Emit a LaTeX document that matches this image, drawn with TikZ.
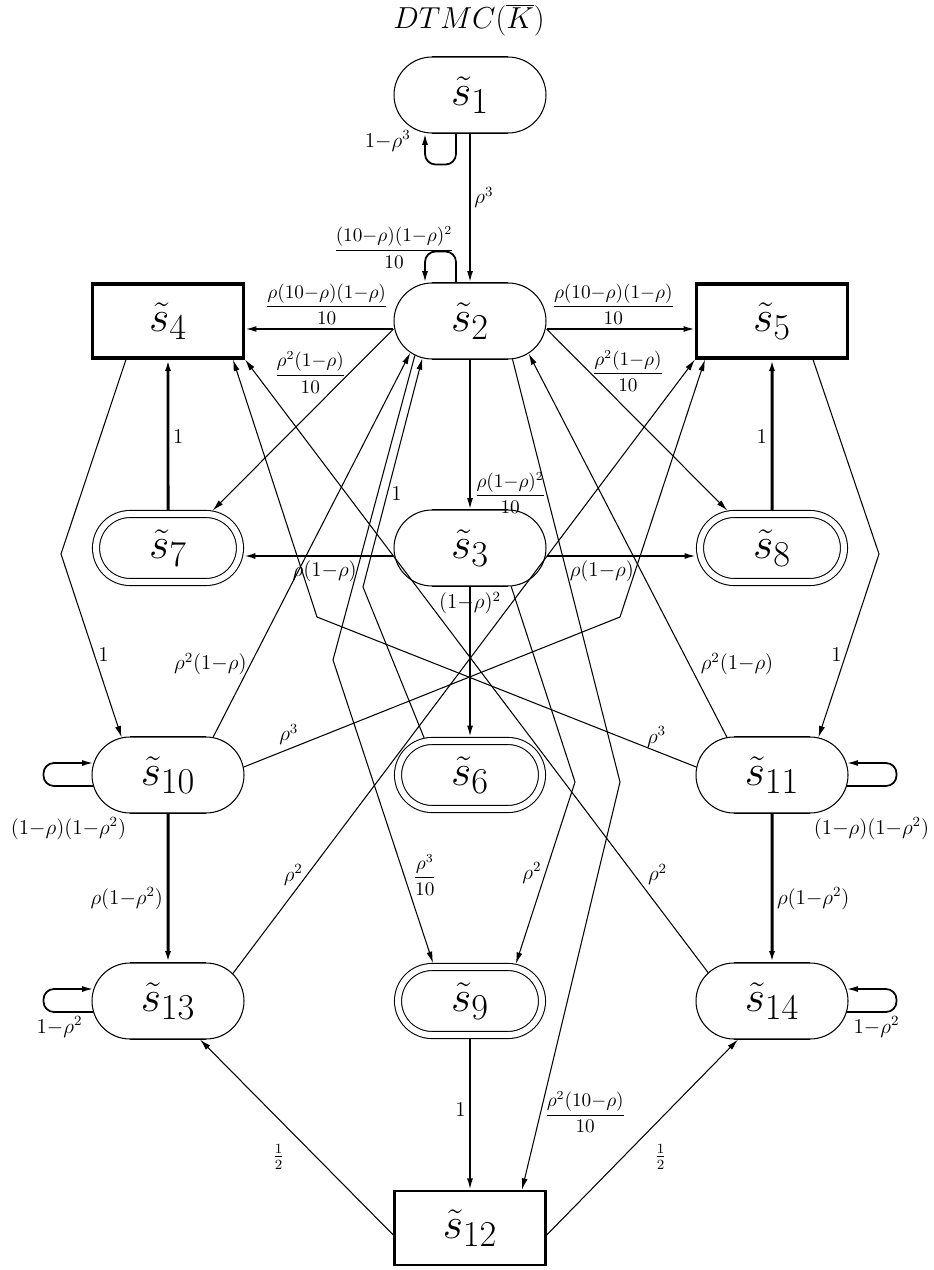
\documentclass[tikz,border=0pt]{standalone}
\usetikzlibrary{shapes.misc,arrows.meta,calc}
\DeclareMathSizes{24}{24}{20}{16}
\newcommand{\st}[1]{$\tilde{s}_{#1}$}
\tikzset{
  state/.style={rounded rectangle, draw, line width=.6pt, minimum width=3.04cm, minimum height=1.52cm, inner sep=0pt, font=\fontsize{24}{28}\selectfont},
  final/.style={state, double, double distance=.12cm, minimum width=2.88cm, minimum height=1.36cm, outer sep=.08cm},
  box/.style={draw, line width=1.8pt, minimum width=3.02cm, minimum height=1.48cm, inner sep=0pt, font=\fontsize{24}{28}\selectfont},
  flat/.style={line width=1.1pt},
  tr/.style={->, line width=.6pt},
  trm/.style={->, line width=1pt},
  trh/.style={->, line width=1.7pt},
  lbl/.style={font=\fontsize{11.5}{13}\selectfont, inner sep=2pt},
  flbl/.style={font=\fontsize{10.5}{12}\selectfont, inner sep=2pt}
}
\begin{document}
\begin{tikzpicture}[x=0.02cm, y=-0.02cm, >={Latex[length=6.5pt,width=3.4pt]}]
\useasboundingbox (0,0) rectangle (933,1270);
\node[font=\fontsize{16.5}{20}\selectfont] (title) at (469,20) {$DTMC(\overline{K})$};
\node[state] (s1) at (470,95) {\st{1}};
\node[state] (s2) at (470,321) {\st{2}};
\node[box] (s4) at (168,321) {\st{4}};
\node[box] (s5) at (772,321) {\st{5}};
\node[final] (s7) at (168,548) {\st{7}};
\node[state] (s3) at (470,548) {\st{3}};
\node[final] (s8) at (772,548) {\st{8}};
\node[state] (s10) at (168,775) {\st{10}};
\node[final] (s6) at (470,775) {\st{6}};
\node[state] (s11) at (772,775) {\st{11}};
\node[state] (s13) at (168,1001) {\st{13}};
\node[final] (s9) at (470,1001) {\st{9}};
\node[state] (s14) at (772,1001) {\st{14}};
\node[box, line width=1.4pt] (s12) at (470,1228) {\st{12}};

\foreach \n in {s1,s2,s3,s10,s11,s13,s14}
  \draw[flat] ([xshift=-.76cm]\n.north) -- ([xshift=.76cm]\n.north)
              ([xshift=-.76cm]\n.south) -- ([xshift=.76cm]\n.south);
\foreach \n in {s6,s7,s8,s9}
  \draw[flat] ([xshift=-.76cm,yshift=-.01cm]\n.north) -- ([xshift=.76cm,yshift=-.01cm]\n.north)
              ([xshift=-.76cm,yshift=-.15cm]\n.north) -- ([xshift=.76cm,yshift=-.15cm]\n.north)
              ([xshift=-.76cm,yshift=.01cm]\n.south) -- ([xshift=.76cm,yshift=.01cm]\n.south)
              ([xshift=-.76cm,yshift=.15cm]\n.south) -- ([xshift=.76cm,yshift=.15cm]\n.south);

\coordinate (k4) at (61,554);
\coordinate (k5) at (879,554);
\coordinate (k10) at (620,617);
\coordinate (k11) at (317,617);
\coordinate (k29) at (333,660);
\coordinate (k39) at (575,782);
\coordinate (k212) at (620,782);
\coordinate (k62) at (363,587);

\draw[trm, rounded corners=6pt] ($(s1.south)+(-14,0)$) -- ++(0,31) -- ++(-31,0) -- ++(0,-31) node[lbl, pos=.75, left, xshift=-.2cm] {$1{-}\rho^3$};
\draw[trm, rounded corners=6pt] ($(s2.north)+(-14,0)$) -- ++(0,-31) -- ++(-31,0) node[flbl, pos=1, xshift=-.62cm, yshift=.08cm] {$\displaystyle\frac{(10{-}\rho)(1{-}\rho)^2}{10}$} -- ++(0,31);
\draw[trm, rounded corners=6pt] ($(s10.west)+(2,11)$) -- ++(-50,0) node[lbl, pos=.5, below, yshift=-.54cm] {$(1{-}\rho)(1{-}\rho^2)$} -- ++(0,-23) -- ($(s10.west)+(2,-12)$);
\draw[trm, rounded corners=6pt] ($(s11.east)+(-2,11)$) -- ++(50,0) node[lbl, pos=.5, below, yshift=-.54cm] {$(1{-}\rho)(1{-}\rho^2)$} -- ++(0,-23) -- ($(s11.east)+(-2,-12)$);
\draw[trm, rounded corners=6pt] ($(s13.west)+(2,11)$) -- ++(-50,0) node[lbl, pos=.68, below] {$1{-}\rho^2$} -- ++(0,-23) -- ($(s13.west)+(2,-12)$);
\draw[trm, rounded corners=6pt] ($(s14.east)+(-2,11)$) -- ++(50,0) node[lbl, pos=.6, below] {$1{-}\rho^2$} -- ++(0,-23) -- ($(s14.east)+(-2,-12)$);

\draw[trm] (s1) -- node[lbl, right, pos=.43] {$\rho^3$} (s2);
\draw[trm] ($(s2.west)+(0,8)$) -- node[flbl, above, pos=.45] {$\displaystyle\frac{\rho(10{-}\rho)(1{-}\rho)}{10}$} ($(s4.east)+(0,8)$);
\draw[trm] ($(s2.east)+(0,8)$) -- node[flbl, above, pos=.45] {$\displaystyle\frac{\rho(10{-}\rho)(1{-}\rho)}{10}$} ($(s5.west)+(0,8)$);
\draw[trm] (s2) -- node[flbl, right, pos=.89] {$\displaystyle\frac{\rho(1{-}\rho)^2}{10}$} (s3);
\draw[trm] (s3) -- node[lbl, pos=.11] {$(1{-}\rho)^2$} (s6);
\draw[trm] ($(s3.west)+(0,8)$) -- node[lbl, below, pos=.46] {$\rho(1{-}\rho)$} ($(s7.east)+(0,8)$);
\draw[trm] ($(s3.east)+(0,8)$) -- node[lbl, below, pos=.37] {$\rho(1{-}\rho)$} ($(s8.west)+(0,8)$);
\draw[trh] (s7) -- node[lbl, right, pos=.49] {$1$} (s4);
\draw[trh] (s8) -- node[lbl, left, pos=.49] {$1$} (s5);
\draw[trh] (s10) -- node[lbl, left, pos=.57] {$\rho(1{-}\rho^2)$} (s13);
\draw[trh] (s11) -- node[lbl, right, pos=.57] {$\rho(1{-}\rho^2)$} (s14);
\draw[trm] (s9) -- node[lbl, left, pos=.47] {$1$} (s12);

\draw[tr] ($(s2.west)+(0,8)$) -- node[flbl, left, pos=.24] {$\displaystyle\frac{\rho^2(1{-}\rho)}{10}$} (s7.40);
\draw[tr] ($(s2.east)+(0,8)$) -- node[flbl, right, pos=.23] {$\displaystyle\frac{\rho^2(1{-}\rho)}{10}$} (s8.140);
\draw[tr] (s10.40) -- node[lbl, left, pos=.19] {$\rho^2(1{-}\rho)$} (s2.208);
\draw[tr] (s11.140) -- node[lbl, right, pos=.19, xshift=.15cm] {$\rho^2(1{-}\rho)$} (s2.331);
\draw[tr] (s13.23.6) -- node[lbl, left, pos=.16] {$\rho^2$} (s5.south west);
\draw[tr] (s14.156.4) -- node[lbl, right, pos=.16, xshift=.2cm] {$\rho^2$} (s4.south east);
\draw[tr] ($(s4.south)+(-42,0)$) -- (k4) -- node[lbl, right, pos=.55] {$1$} (s10.141);
\draw[tr] ($(s5.south)+(41,0)$) -- (k5) -- node[lbl, left, pos=.55] {$1$} (s11.39);
\draw[tr] (s10.6) -- node[lbl, above, pos=.12] {$\rho^3$} (k10) -- ($(s5.south)+(-67,0)$);
\draw[tr] (s11.174) -- node[lbl, above, pos=.105] {$\rho^3$} (k11) -- ($(s4.south)+(65,0)$);
\draw[tr] (s2.212) -- (k29) -- node[flbl, right, pos=.71, xshift=.1cm] {$\displaystyle\frac{\rho^3}{10}$} ($(s9.north)+(-37,0)$);
\draw[tr] (s3.317) -- (k39) -- node[lbl, left, pos=.5] {$\rho^2$} (s9.39);
\draw[tr] (s2.318) -- (k212) -- node[flbl, right, pos=.81] {$\displaystyle\frac{\rho^2(10{-}\rho)}{10}$} ($(s12.north)+(52,0)$);
\draw[tr] (s6.141) -- (k62) -- node[lbl, right, pos=.41] {$1$} (s2.218);
\draw[tr] ($(s12.west)+(0,7)$) -- node[lbl, left, pos=.4, xshift=-.55cm] {$\frac{1}{2}$} ($(s13.south)+(32,0)$);
\draw[tr] ($(s12.east)+(0,7)$) -- node[lbl, right, pos=.4, xshift=.55cm] {$\frac{1}{2}$} ($(s14.south)+(-34,0)$);
\end{tikzpicture}
\end{document}
